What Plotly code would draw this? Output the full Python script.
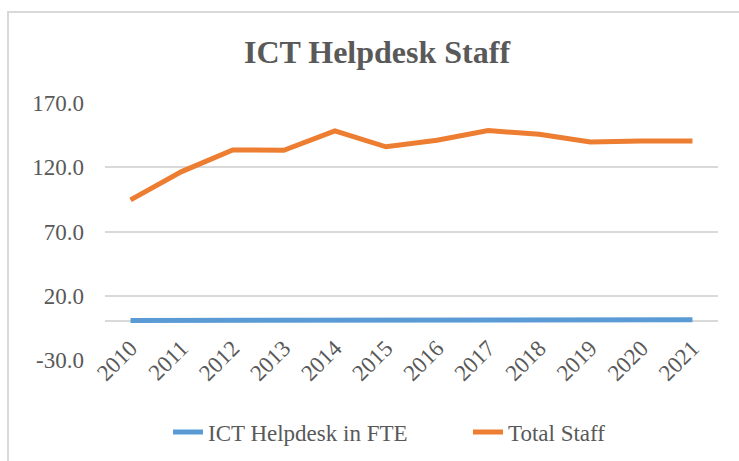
import plotly.graph_objects as go

years = ["2010", "2011", "2012", "2013", "2014", "2015", "2016", "2017", "2018", "2019", "2020", "2021"]
helpdesk_fte = [0.8, 0.8, 1.0, 1.2, 1.4, 1.3, 1.3, 1.3, 1.3, 1.3, 1.3, 1.3]
total_staff = [94.6, 116.6, 133.5, 133.2, 148.3, 135.9, 141.0, 148.5, 145.7, 139.7, 140.5, 140.5]
y_ticks = [-30, 20, 70, 120, 170]
y_ticktext = ["-30.0", "20.0", "70.0", "120.0", "170.0"]

FONT = "Liberation Serif"
GRAY = "#595959"

fig = go.Figure()
fig.add_trace(go.Scatter(x=years, y=helpdesk_fte, mode="lines", name="ICT Helpdesk in FTE",
                         line=dict(color="#5b9bd5", width=5)))
fig.add_trace(go.Scatter(x=years, y=total_staff, mode="lines", name="Total Staff",
                         line=dict(color="#ed7d31", width=5)))

fig.update_layout(
    width=739, height=461,
    margin=dict(l=105, r=21, t=103, b=101, autoexpand=False),
    paper_bgcolor="white", plot_bgcolor="white",
    font=dict(family=FONT, color=GRAY, size=23),
    title=dict(text="<b>ICT Helpdesk Staff</b>", x=377/739, xanchor="center",
               y=1-52/461, yanchor="middle", xref="container", yref="container",
               font=dict(family=FONT, size=32, color=GRAY)),
    showlegend=True,
    legend=dict(orientation="h", x=(168-105)/613, xanchor="left", y=-0.28, yanchor="middle",
                entrywidth=255, entrywidthmode="pixels",
                font=dict(family=FONT, size=23, color=GRAY), bgcolor="rgba(0,0,0,0)"),
    xaxis=dict(type="category", range=[-0.5, 11.5], showgrid=False, showline=False,
               ticks="", tickangle=-45, anchor="free", position=0.12,
               tickfont=dict(family=FONT, size=23, color=GRAY)),
    yaxis=dict(range=[-30, 170], tickvals=y_ticks, ticktext=y_ticktext, showgrid=True,
               gridcolor="#d9d9d9", gridwidth=2, zeroline=True, zerolinecolor="#d9d9d9",
               zerolinewidth=2, showline=False, ticks="", ticklabelstandoff=20,
               tickfont=dict(family=FONT, size=23, color=GRAY)),
    shapes=[dict(type="rect", xref="paper", yref="paper",
                 x0=(8-105)/613, x1=(745-105)/613, y0=(360-470)/257, y1=(360-12)/257,
                 line=dict(color="#d9d9d9", width=2), fillcolor="rgba(0,0,0,0)", layer="below")],
)

fig.write_html("out.html", config={"displayModeBar": False},
               post_script="document.body.style.margin='0';document.body.style.overflow='hidden';")
